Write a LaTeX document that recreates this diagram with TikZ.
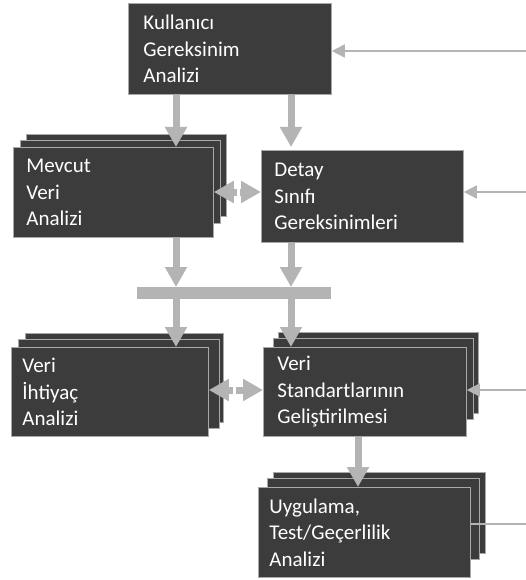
\documentclass[tikz,border=0pt]{standalone}
\usepackage{fontspec}
\setmainfont{Carlito}
\usetikzlibrary{arrows.meta}
\definecolor{boxfill}{HTML}{3C3C3C}
\definecolor{boxedge}{HTML}{A8A8A8}
\definecolor{arrowgrey}{HTML}{B4B4B4}
\tikzset{
  box/.style={rectangle, fill=boxfill, draw=boxedge, line width=0.8pt,
    text=white, font=\fontsize{21}{26.5}\selectfont, align=left,
    inner xsep=13pt, inner ysep=0pt, anchor=north west},
  layer/.style={fill=boxfill, draw=boxedge, line width=0.8pt},
  bigarrow/.style={draw=arrowgrey, line width=7pt,
    -{Triangle[width=21pt,length=20pt]}, color=arrowgrey},
  thinarrow/.style={draw=arrowgrey, line width=1.6pt,
    -{Triangle[width=13pt,length=13pt]}, color=arrowgrey},
  thinline/.style={draw=arrowgrey, line width=1.6pt},
}
\begin{document}
\begin{tikzpicture}[x=1pt,y=-1pt]
\useasboundingbox (0,0) rectangle (526,580);
\fill[white] (0,0) rectangle (526,580);

% stacked layers
\filldraw[layer] (26,134) rectangle (226,216);
\filldraw[layer] (20,140) rectangle (220,223);
\filldraw[layer] (25,333) rectangle (223,422);
\filldraw[layer] (18,339) rectangle (219,428);
\filldraw[layer] (278,332) rectangle (478,413);
\filldraw[layer] (273,338) rectangle (473,419);
\filldraw[layer] (273,472) rectangle (485,553);
\filldraw[layer] (267,478) rectangle (479,559);

% front boxes
\node[box, text width=173pt, inner xsep=15pt, minimum height=91pt] (kua) at (128,3) {Kullanıcı\\Gereksinim\\Analizi};
\node[box, text width=174pt, minimum height=90pt] (mev) at (13,147) {Mevcut\\Veri\\Analizi};
\node[box, text width=176pt, minimum height=92pt] (det) at (261,150) {Detay\\Sınıfı\\Gereksinimleri};
\node[box, text width=175pt, inner xsep=11pt, minimum height=89pt] (vih) at (11,347) {Veri\\İhtiyaç\\Analizi};
\node[box, text width=175pt, inner xsep=14pt, minimum height=89pt] (vst) at (263,347) {Veri\\Standartlarının\\Geliştirilmesi};
\node[box, text width=190pt, inner xsep=11pt, minimum height=90pt] (uyg) at (258,487) {Uygulama,\\Test/Geçerlilik\\Analizi};

% bar
\node[rectangle, fill=arrowgrey, inner sep=0pt, minimum width=194pt, minimum height=12pt, anchor=north west] (bar) at (137,287) {};

% coordinates for free ends and columns
\coordinate (colA) at (176,0);
\coordinate (colB) at (291,0);
\coordinate (colC) at (358,0);
\coordinate (in1) at (526,51);
\coordinate (in2) at (526,192);
\coordinate (in3) at (526,390);
\coordinate (in4) at (526,524);

% vertical big arrows
\draw[bigarrow] (colA |- kua.south) -- (colA |- mev.north);
\draw[bigarrow] (colB |- kua.south) -- ([yshift=3pt]colB |- det.north);
\draw[bigarrow] (colA |- mev.south) -- (colA |- bar.north);
\draw[bigarrow] (colB |- det.south) -- (colB |- bar.north);
\draw[bigarrow] (colA |- bar.south) -- (colA |- vih.north);
\draw[bigarrow] (colB |- bar.south) -- (colB |- vst.north);
\draw[bigarrow] (colC |- vst.south) -- (colC |- uyg.north);

% double arrows (two heads with a small gap)
\draw[bigarrow] ([xshift=23pt]mev.east |- in2) -- (mev.east |- in2);
\draw[bigarrow] ([xshift=26pt]mev.east |- in2) -- (det.west |- in2);
\draw[bigarrow] ([xshift=24pt]vih.east |- in3) -- (vih.east |- in3);
\draw[bigarrow] ([xshift=27pt]vih.east |- in3) -- (vst.west |- in3);

% thin arrows from right
\draw[thinarrow] (in1) -- (kua.east |- in1);
\draw[thinarrow] (in2) -- (det.east |- in2);
\draw[thinarrow] (in3) -- (vst.east |- in3);
\draw[thinline] (in4) -- (uyg.east |- in4);
\end{tikzpicture}
\end{document}
